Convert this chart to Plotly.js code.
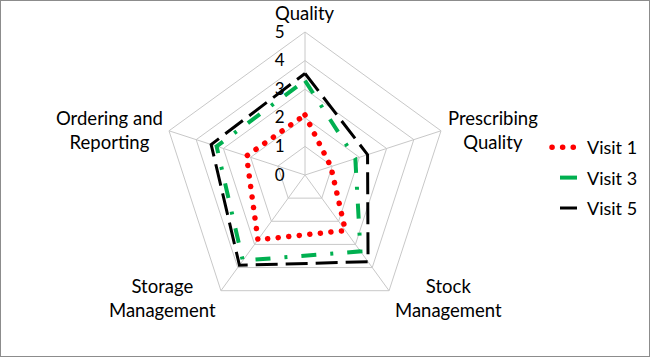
<!DOCTYPE html>
<html>
<head>
<meta charset="utf-8">
<script src="https://cdn.plot.ly/plotly-3.0.1.min.js"></script>
<style>
  html, body { margin: 0; padding: 0; background: #fff; }
  #chart { width: 650px; height: 357px; }
</style>
</head>
<body>
<div id="chart"></div>
<script>
const categories = ["Quality", "Prescribing<br>Quality", "Stock<br>Management", "Storage<br>Management", "Ordering and<br>Reporting"];
const visit1 = [2.1, 0.95, 2.4, 2.8, 2.15];
const visit3 = [3.3, 1.85, 3.3, 3.7, 3.25];
const visit5 = [3.55, 2.3, 3.75, 3.9, 3.45];
const seriesNames = ["Visit 1", "Visit 3", "Visit 5"];
const radialTicks = [0, 1, 2, 3, 4, 5];

function closed(arr) { return arr.concat([arr[0]]); }
const theta = closed(categories);

const traces = [
  { type: 'scatterpolar', mode: 'lines', name: seriesNames[0], legendgroup: 'a', r: closed(visit1), theta: theta,
    line: { color: '#ff0000', width: 5.5, dash: '0.1px,10.5px' } },
  { type: 'scatterpolar', mode: 'lines', name: seriesNames[1], legendgroup: 'b', r: closed(visit3), theta: theta,
    line: { color: '#00b050', width: 4, dash: '15px,14px,3px,14px' } },
  { type: 'scatterpolar', mode: 'lines', name: seriesNames[2], legendgroup: 'c', r: closed(visit5), theta: theta,
    line: { color: '#000000', width: 3, dash: '22px,8px' } }
];

const W = 650, H = 357;
const cx = 305, cy = 175, R = 143;

// label anchor positions (pixels) for the five category labels
const labelPos = [[305, 13], [493, 130], [448, 298], [163, 298], [109, 130]];
const annotations = categories.map(function (c, i) {
  return { text: c, xref: 'paper', yref: 'paper', x: labelPos[i][0] / W, y: 1 - labelPos[i][1] / H,
           xanchor: 'center', yanchor: 'middle', showarrow: false, align: 'center',
           font: { size: 18.5, color: '#000' } };
});

const layout = {
  width: W, height: H,
  margin: { l: 0, r: 0, t: 0, b: 0 },
  paper_bgcolor: '#ffffff',
  font: { family: 'Lato, "Open Sans", sans-serif', size: 18, color: '#000' },
  showlegend: true,
  legend: { x: 547 / W, y: 1 - 129 / H, xanchor: 'left', yanchor: 'top',
            font: { size: 18, color: '#000' }, tracegroupgap: 4, itemwidth: 30,
            traceorder: 'grouped', bgcolor: 'rgba(0,0,0,0)' },
  polar: {
    domain: { x: [(cx - R) / W, (cx + R) / W], y: [1 - (cy + R) / H, 1 - (cy - R) / H] },
    gridshape: 'linear',
    bgcolor: '#ffffff',
    angularaxis: {
      rotation: 90, direction: 'clockwise', type: 'category',
      showline: true, linecolor: '#c8c8c8', linewidth: 1,
      gridcolor: '#c8c8c8', gridwidth: 1,
      ticks: '', showticklabels: false
    },
    radialaxis: {
      range: [0, 5], tickvals: radialTicks, ticktext: radialTicks.map(String),
      angle: 90, side: 'counterclockwise',
      showline: false, gridcolor: '#c8c8c8', gridwidth: 1,
      ticks: 'outside', ticklen: 14, tickcolor: 'rgba(0,0,0,0)',
      tickfont: { size: 17, color: '#000' }, tickangle: 90
    }
  },
  annotations: annotations,
  shapes: [
    { type: 'rect', xref: 'paper', yref: 'paper', x0: 0, x1: 1, y0: 0, y1: 1,
      line: { color: '#8c8c8c', width: 2 } }
  ]
};

Plotly.newPlot('chart', traces, layout, { displayModeBar: false, staticPlot: true }).then(function (gd) {
  gd.querySelectorAll('.scatterlayer .trace').forEach(function (t, i) {
    if (i === 0) t.querySelectorAll('path.js-line').forEach(function (p) { p.style.strokeLinecap = 'round'; });
  });
  gd.querySelectorAll('.legend .traces').forEach(function (t, i) {
    t.querySelectorAll('path.js-line').forEach(function (p) {
      if (i === 0) { p.style.strokeLinecap = 'round'; }
      else { p.setAttribute('d', 'M13,0h17'); p.style.strokeDasharray = 'none'; }
    });
  });
});
</script>
</body>
</html>
